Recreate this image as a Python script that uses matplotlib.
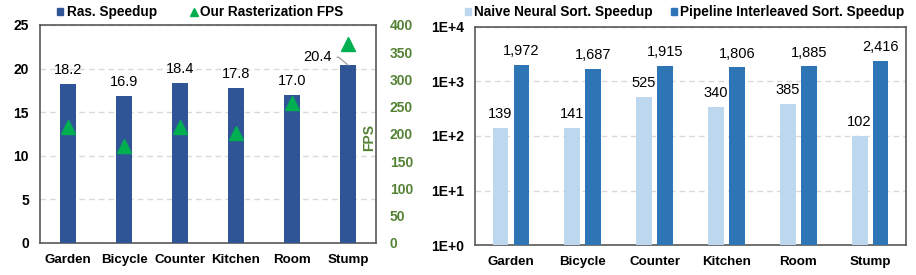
import numpy as np
import matplotlib.pyplot as plt
from matplotlib.lines import Line2D
from matplotlib.patches import Patch

plt.rcParams['font.family'] = ['Liberation Sans', 'DejaVu Sans']
plt.rcParams['font.size'] = 10

scenes = ['Garden', 'Bicycle', 'Counter', 'Kitchen', 'Room', 'Stump']
ras_speedup = [18.2, 16.9, 18.4, 17.8, 17.0, 20.4]
ras_fps = [213, 178, 212, 202, 257, 366]
naive_speedup = [139, 141, 525, 340, 385, 102]
pipe_speedup = [1972, 1687, 1915, 1806, 1885, 2416]

c_ras = '#2F5597'
c_fps = '#00B050'
c_fps_txt = '#548235'
c_naive = '#BDD7EE'
c_pipe = '#2E75B6'
c_grid = '#D9D9D9'
c_spine = '#595959'

fig = plt.figure(figsize=(9.16, 2.75), dpi=100)
ax1 = fig.add_axes([0.0437, 0.1164, 0.3668, 0.7927])
ax3 = fig.add_axes([0.5186, 0.109, 0.4705, 0.793])

x = np.arange(len(scenes))

## left: rasterization speedup + FPS
ax1.bar(x, ras_speedup, width=0.3, color=c_ras, zorder=3)
ax1.set_xlim(-0.5, 5.5)
ax1.set_ylim(0, 25)
ax1.set_yticks(np.arange(0, 26, 5))
ax1.set_xticks(x)
ax1.set_xticklabels(scenes, fontweight='bold', fontsize=9.6)
for lbl in ax1.get_yticklabels():
    lbl.set_fontweight('bold')
ax1.tick_params(length=0, pad=8)
ax1.tick_params(axis='x', pad=8)
ax1.grid(axis='y', color=c_grid, linestyle=(0, (4, 3)), linewidth=1, zorder=0)
for s in ax1.spines.values():
    s.set_color(c_spine)
    s.set_linewidth(1.2)

for i, v in enumerate(ras_speedup[:-1]):
    ax1.annotate(f'{v:.1f}', (x[i], v), xytext=(0, 5), textcoords='offset points',
                 ha='center', va='bottom', fontsize=10.5)
ax1.annotate(f'{ras_speedup[-1]:.1f}', xy=(x[-1], ras_speedup[-1]),
             xytext=(4.45, 21.3), ha='center', va='center', fontsize=10.5,
             arrowprops=dict(arrowstyle='-', color='#A6A6A6', lw=1,
                             connectionstyle='angle,angleA=0,angleB=-40,rad=0',
                             shrinkA=2, shrinkB=0))

ax2 = ax1.twinx()
ax2.plot(x, ras_fps, linestyle='none', marker='^', markersize=10, color=c_fps, zorder=4)
ax2.set_ylim(0, 400)
ax2.set_yticks(np.arange(0, 401, 50))
for lbl in ax2.get_yticklabels():
    lbl.set_fontweight('bold')
    lbl.set_color(c_fps_txt)
ax2.tick_params(length=0, pad=10)
for s in ax2.spines.values():
    s.set_visible(False)
fig.text(0.4035, 0.5, 'FPS', rotation=90, ha='center', va='center',
         color=c_fps_txt, fontweight='bold', fontsize=10)

leg_kw = dict(loc='center left', ncol=2, frameon=False, borderaxespad=0, borderpad=0,
              handlelength=0.45, handleheight=0.45, handletextpad=0.25,
              prop={'weight': 'bold', 'size': 9.8})

h1 = [Patch(color=c_ras), Line2D([], [], linestyle='none', marker='^', color=c_fps, markersize=6)]
fig.legend(h1, ['Ras. Speedup', 'Our Rasterization FPS'], bbox_to_anchor=(0.0622, 0.955),
           columnspacing=2.5, **leg_kw)

## right: sort speedup (log)
bw = 0.22
ax3.bar(x - 0.146, naive_speedup, width=bw, color=c_naive, zorder=3)
ax3.bar(x + 0.146, pipe_speedup, width=bw, color=c_pipe, zorder=3)
ax3.set_yscale('log')
ax3.set_ylim(1, 1e4)
ax3.set_xlim(-0.5, 5.5)
ax3.set_yticks([1, 10, 100, 1000, 10000])
ax3.set_yticklabels(['1E+0', '1E+1', '1E+2', '1E+3', '1E+4'], fontweight='bold')
ax3.minorticks_off()
ax3.set_xticks(x)
ax3.set_xticklabels(scenes, fontweight='bold', fontsize=9.6)
ax3.tick_params(length=0, pad=8)
ax3.tick_params(axis='x', pad=8)
ax3.grid(axis='y', which='major', color=c_grid, linestyle=(0, (4, 3)), linewidth=1, zorder=0)
for s in ax3.spines.values():
    s.set_color(c_spine)
    s.set_linewidth(1.2)

for i in range(len(scenes)):
    ax3.annotate(f'{naive_speedup[i]:,}', (x[i] - 0.146, naive_speedup[i]), xytext=(0, 5),
                 textcoords='offset points', ha='center', va='bottom', fontsize=10.5)
    ax3.annotate(f'{pipe_speedup[i]:,}', (x[i] + 0.146, pipe_speedup[i]), xytext=(0, 5),
                 textcoords='offset points', ha='center', va='bottom', fontsize=10.5)

h3 = [Patch(color=c_naive), Patch(color=c_pipe)]
fig.legend(h3, ['Naive Neural Sort. Speedup', 'Pipeline Interleaved Sort. Speedup'],
           bbox_to_anchor=(0.5076, 0.955), columnspacing=1.3, **leg_kw)

fig.savefig('out.png', dpi=100)
